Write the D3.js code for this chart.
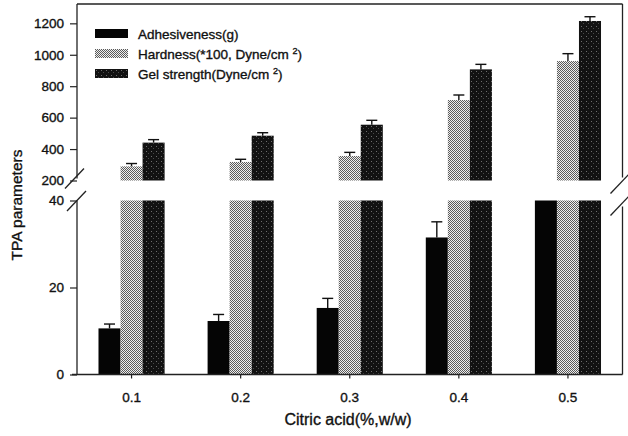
<!DOCTYPE html>
<html>
<head>
<meta charset="utf-8">
<script src="https://cdn.jsdelivr.net/npm/d3@7"></script>
<style>
  html, body { margin: 0; padding: 0; background: #fff; }
  svg { display: block; font-family: "Liberation Sans", Arial, Helvetica, sans-serif; }
  svg text { stroke: #111; stroke-width: 0.35px; }
</style>
</head>
<body>
<svg id="chart" width="628" height="436"></svg>
<script>
// ---- Data ----
const categories = ["0.1", "0.2", "0.3", "0.4", "0.5"];
const adhesiveness = [10.6, 12.3, 15.3, 31.5, 48];
const adhesivenessErr = [1.0, 1.5, 2.2, 3.6, 0];
const hardness = [290, 318, 356, 712, 960];
const hardnessErr = [18, 17, 23, 32, 47];
const gelStrength = [441, 485, 555, 907, 1215];
const gelStrengthErr = [19, 19, 28, 32, 27];
const upperTicks = [200, 400, 600, 800, 1000, 1200];
const lowerTicks = [0, 20, 40];
const seriesKeys = ["adh", "hard", "gel"];

const series = [
  { key: "adh", values: adhesiveness, errs: adhesivenessErr },
  { key: "hard", values: hardness, errs: hardnessErr },
  { key: "gel", values: gelStrength, errs: gelStrengthErr }
];

const svg = d3.select("#chart");
const left = 77, right = 622.5;

// ---- Patterns ----
const defs = svg.append("defs");
const pH = defs.append("pattern").attr("id", "patHard").attr("patternUnits", "userSpaceOnUse")
  .attr("width", 2).attr("height", 2);
pH.append("rect").attr("width", 2).attr("height", 2).attr("fill", "#eeeeee");
pH.append("rect").attr("x", 0).attr("y", 0).attr("width", 1).attr("height", 1).attr("fill", "#5a5a5a");
pH.append("rect").attr("x", 1).attr("y", 1).attr("width", 1).attr("height", 1).attr("fill", "#5a5a5a");

const pG = defs.append("pattern").attr("id", "patGel").attr("patternUnits", "userSpaceOnUse")
  .attr("width", 5).attr("height", 5);
pG.append("rect").attr("width", 5).attr("height", 5).attr("fill", "#121212");
pG.append("rect").attr("x", 1).attr("y", 1).attr("width", 1).attr("height", 1).attr("fill", "#6e6e6e");
pG.append("rect").attr("x", 3).attr("y", 3).attr("width", 1).attr("height", 1).attr("fill", "#4a4a4a");

const fills = { adh: "#050505", hard: "url(#patHard)", gel: "url(#patGel)" };

// ---- Scales ----
const x = d3.scaleBand().domain(categories).range([left, right])
  .paddingInner(0.394).paddingOuter(0.197);
const xs = d3.scaleBand().domain(seriesKeys).range([0, x.bandwidth()]);

const yUp = d3.scaleLinear().domain([200, 1323]).range([180.5, 4]);
const yLo = d3.scaleLinear().domain([0, 40]).range([374.5, 200.5]);

// ---- Bars ----
const bars = [];
series.forEach(s => s.values.forEach((v, i) => bars.push({ key: s.key, cat: categories[i], v, e: s.errs[i] })));

const g = svg.append("g");
g.selectAll("rect.lo").data(bars).join("rect").attr("class", "lo")
  .attr("x", d => x(d.cat) + xs(d.key))
  .attr("width", xs.bandwidth())
  .attr("y", d => yLo(Math.min(d.v, 40)))
  .attr("height", d => yLo(0) - yLo(Math.min(d.v, 40)))
  .attr("fill", d => fills[d.key]);
const upBars = bars.filter(d => d.v > 200);
g.selectAll("rect.up").data(upBars).join("rect").attr("class", "up")
  .attr("x", d => x(d.cat) + xs(d.key))
  .attr("width", xs.bandwidth())
  .attr("y", d => yUp(d.v))
  .attr("height", d => yUp(200) - yUp(d.v))
  .attr("fill", d => fills[d.key]);

// ---- Error bars ----
const errs = bars.filter(d => d.e > 0 && (d.v > 200 || d.v < 40));
const yOf = d => d.v > 200 ? yUp : yLo;
const eg = svg.append("g").attr("stroke", "#111").attr("stroke-width", 1.4);
eg.selectAll("line.v").data(errs).join("line")
  .attr("x1", d => x(d.cat) + xs(d.key) + xs.bandwidth() / 2)
  .attr("x2", d => x(d.cat) + xs(d.key) + xs.bandwidth() / 2)
  .attr("y1", d => yOf(d)(d.v))
  .attr("y2", d => yOf(d)(d.v + d.e));
eg.selectAll("line.c").data(errs).join("line")
  .attr("x1", d => x(d.cat) + xs(d.key) + xs.bandwidth() / 2 - 5.5)
  .attr("x2", d => x(d.cat) + xs(d.key) + xs.bandwidth() / 2 + 5.5)
  .attr("y1", d => yOf(d)(d.v + d.e))
  .attr("y2", d => yOf(d)(d.v + d.e));

// ---- Axes ----
const axStyle = sel => {
  sel.selectAll("text").attr("font-size", 13.5).attr("fill", "#111")
    .attr("font-family", "Liberation Sans, Arial, sans-serif");
  sel.selectAll("line").attr("stroke", "#222").attr("stroke-width", 1.2);
  sel.select(".domain").remove();
};
svg.append("g").attr("transform", `translate(${left},0)`)
  .call(d3.axisLeft(yUp).tickValues(upperTicks).tickSize(7).tickPadding(6).tickFormat(d3.format("d")))
  .call(axStyle);
svg.append("g").attr("transform", `translate(${left},0)`)
  .call(d3.axisLeft(yLo).tickValues(lowerTicks).tickSize(7).tickPadding(6))
  .call(axStyle);
svg.append("g").attr("transform", `translate(0,${yLo(0)})`)
  .call(d3.axisBottom(x).tickSize(4).tickPadding(14))
  .call(axStyle);

// frame lines
const frame = svg.append("g").attr("stroke", "#222").attr("stroke-width", 1.3).attr("fill", "none");
frame.append("line").attr("x1", left).attr("x2", right).attr("y1", yUp.range()[1]).attr("y2", yUp.range()[1]);
frame.append("line").attr("x1", left - 5).attr("x2", right).attr("y1", yLo(0)).attr("y2", yLo(0));
frame.append("line").attr("x1", left).attr("x2", left).attr("y1", yUp.range()[1]).attr("y2", yUp(200) - 2);
frame.append("line").attr("x1", left).attr("x2", left).attr("y1", yLo(40)).attr("y2", yLo(0));
frame.append("line").attr("x1", right).attr("x2", right).attr("y1", yUp.range()[1]).attr("y2", yUp(200) - 3);
frame.append("line").attr("x1", right).attr("x2", right).attr("y1", yLo(40) + 6).attr("y2", yLo(0));

// break marks
const slash = (cx, cy) => frame.append("line")
  .attr("x1", cx - 10).attr("y1", cy + 10).attr("x2", cx + 9).attr("y2", cy - 10);
slash(left - 2, yUp(200) - 2);
slash(left, yLo(40) + 0.5);
slash(right - 2, yUp(200) + 3);
slash(right - 2, yLo(40) + 5);

// ---- Axis titles ----
svg.append("text").attr("x", 348).attr("y", 425).attr("text-anchor", "middle")
  .attr("font-size", 16).attr("fill", "#111").text("Citric acid(%,w/w)");
svg.append("text").attr("transform", "translate(22,205) rotate(-90)").attr("text-anchor", "middle")
  .attr("font-size", 15.5).attr("fill", "#111").text("TPA parameters");

// ---- Legend ----
const legendLabels = [
  { key: "adh", text: "Adhesiveness(g)", sup: null, tail: "" },
  { key: "hard", text: "Hardness(*100, Dyne/cm ", sup: "2", tail: ")" },
  { key: "gel", text: "Gel strength(Dyne/cm ", sup: "2", tail: ")" }
];
const lg = svg.append("g").attr("transform", "translate(95,29)");
legendLabels.forEach((l, i) => {
  const row = lg.append("g").attr("transform", `translate(0,${i * 20})`);
  row.append("rect").attr("width", 33).attr("height", 9).attr("fill", fills[l.key]);
  const t = row.append("text").attr("x", 43).attr("y", 9.5).attr("font-size", 13.5).attr("fill", "#111");
  t.append("tspan").text(l.text);
  if (l.sup) {
    t.append("tspan").attr("font-size", 9).attr("dy", -5).text(l.sup);
    t.append("tspan").attr("dy", 5).text(l.tail);
  }
});
</script>
</body>
</html>
